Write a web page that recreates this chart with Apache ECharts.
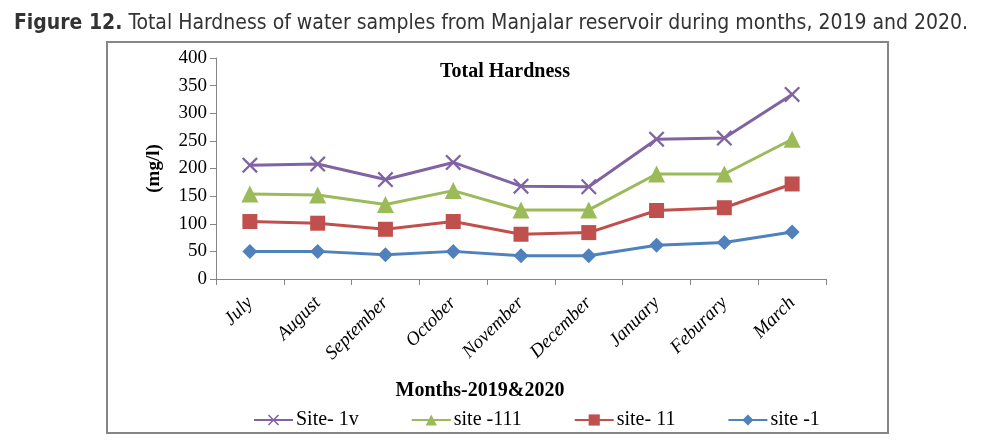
<!DOCTYPE html>
<html><head><meta charset="utf-8">
<script src="https://cdn.jsdelivr.net/npm/echarts@6/dist/echarts.min.js"></script>
<style>html,body{margin:0;padding:0;background:#fff}#c{width:982px;height:440px}</style>
</head><body><div id="c"></div>
<script>
const months = ['July','August','September','October','November','December','January','Feburary','March'];
const site1v = [206, 208, 180, 211, 168, 167, 253, 255, 334];
const site111 = [154, 152, 135, 160, 125, 125, 190, 190, 253];
const site11 = [104, 101, 90, 104, 81, 84, 124, 129, 172];
const site1 = [50, 50, 44, 50, 42, 42, 61, 66, 85];
const yTicks = [0, 50, 100, 150, 200, 250, 300, 350, 400];

const serif = '"Liberation Serif","Times New Roman",serif';
const narrow = '"Liberation Sans Narrow","DejaVu Sans Condensed",sans-serif';
const crossPath = 'path://M0,1L1,0L5,4L9,0L10,1L6,5L10,9L9,10L5,6L1,10L0,9L4,5Z';
const chart = echarts.init(document.getElementById('c'));
function s(name, data, color, symbol, size){
  return {name, type:'line', data, symbol, symbolSize:size,
    lineStyle:{color, width:3}, itemStyle:{color}, animation:false};
}
chart.setOption({
  animation:false,
  title:[{
    text:'{b|Figure 12.} Total Hardness of water samples from Manjalar reservoir during months, 2019 and 2020.',
    left:'center', top:8,
    textStyle:{fontFamily:narrow, fontSize:21, fontWeight:'normal', color:'#333',
      rich:{b:{fontFamily:narrow, fontSize:21, fontWeight:'bold', color:'#333'}}}
  },{
    text:'Total Hardness', left:500, top:57, textAlign:'center',
    textStyle:{fontFamily:serif, fontSize:20, fontWeight:'bold', color:'#000'}
  },{
    text:'Months-2019&2020', left:475, top:376, textAlign:'center',
    textStyle:{fontFamily:serif, fontSize:20, fontWeight:'bold', color:'#000'}
  }],
  graphic:[{type:'rect', shape:{x:107, y:42, width:781, height:391}, style:{fill:'none', stroke:'#868686', lineWidth:2}, silent:true}],
  grid:{left:216, right:156, top:58, bottom:161, containLabel:false},
  legend:{
    data:['Site- 1v','site -111','site- 11','site -1'],
    left:253, top:410, padding:0, itemWidth:39, itemHeight:14, itemGap:52,
    textStyle:{fontFamily:serif, fontSize:20, color:'#000', padding:[0,0,0,-2]}
  },
  xAxis:{
    type:'category', data:months, boundaryGap:true,
    axisLine:{lineStyle:{color:'#868686', width:1}},
    axisTick:{show:true, alignWithLabel:false, length:6, lineStyle:{color:'#868686'}},
    axisLabel:{rotate:45, margin:21, fontFamily:serif, fontStyle:'italic', fontSize:19, color:'#000'}
  },
  yAxis:{
    type:'value', min:0, max:400, interval:50,
    axisLine:{show:true, lineStyle:{color:'#868686', width:1}},
    axisTick:{show:true, length:6, lineStyle:{color:'#868686'}},
    splitLine:{show:false},
    axisLabel:{margin:9, fontFamily:serif, fontSize:19, color:'#000',
      formatter:v=>yTicks.includes(v)?String(v):''},
    name:'(mg/l)', nameLocation:'middle', nameGap:52, nameRotate:90,
    nameTextStyle:{fontFamily:serif, fontSize:19, fontWeight:'bold', color:'#000'}
  },
  series:[
    s('Site- 1v', site1v, '#8064A2', crossPath, 16),
    s('site -111', site111, '#9BBB59', 'triangle', 17),
    s('site- 11', site11, '#C0504D', 'rect', 15),
    s('site -1', site1, '#4F81BD', 'diamond', 15)
  ]
});
</script></body></html>
